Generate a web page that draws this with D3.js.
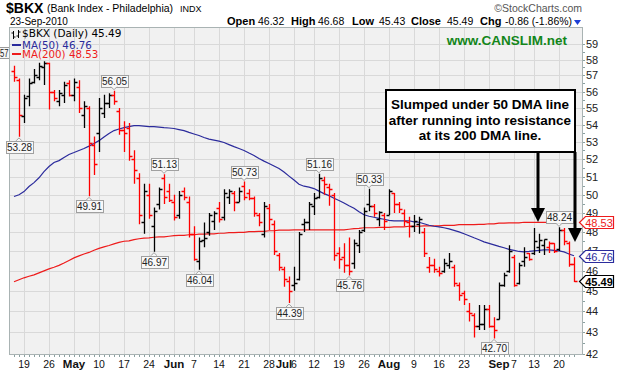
<!DOCTYPE html>
<html>
<head>
<meta charset="utf-8">
<script src="https://cdn.jsdelivr.net/npm/d3@7"></script>
<style>
    body { margin: 0; background: #fff; }
    svg { display: block; }
</style>
</head>
<body>
<svg id="SVG_CONTAINER" width="617" height="378"></svg>
<script>
let d3 = window.d3;

// trading days shown
const dates = [
    "Apr 15","Apr 16","Apr 19","Apr 20","Apr 21","Apr 22","Apr 23","Apr 26","Apr 27","Apr 28","Apr 29","Apr 30",
    "May 3","May 4","May 5","May 6","May 7","May 10","May 11","May 12","May 13","May 14",
    "May 17","May 18","May 19","May 20","May 21","May 24","May 25","May 26","May 27","May 28",
    "Jun 1","Jun 2","Jun 3","Jun 4","Jun 7","Jun 8","Jun 9","Jun 10","Jun 11",
    "Jun 14","Jun 15","Jun 16","Jun 17","Jun 18","Jun 21","Jun 22","Jun 23","Jun 24","Jun 25",
    "Jun 28","Jun 29","Jun 30","Jul 1","Jul 2","Jul 6","Jul 7","Jul 8","Jul 9",
    "Jul 12","Jul 13","Jul 14","Jul 15","Jul 16","Jul 19","Jul 20","Jul 21","Jul 22","Jul 23",
    "Jul 26","Jul 27","Jul 28","Jul 29","Jul 30","Aug 2","Aug 3","Aug 4","Aug 5","Aug 6",
    "Aug 9","Aug 10","Aug 11","Aug 12","Aug 13","Aug 16","Aug 17","Aug 18","Aug 19","Aug 20",
    "Aug 23","Aug 24","Aug 25","Aug 26","Aug 27","Aug 30","Aug 31","Sep 1","Sep 2","Sep 3",
    "Sep 7","Sep 8","Sep 9","Sep 10","Sep 13","Sep 14","Sep 15","Sep 16","Sep 17",
    "Sep 20","Sep 21","Sep 22","Sep 23"
];

const opens = [
    57.3,56.7,54.5,55.7,56.6,56.9,57.5,57.8,56.0,55.4,55.8,56.5,
    55.8,56.3,54.6,55.0,52.8,53.5,54.7,55.3,55.8,54.8,
    53.7,53.8,52.0,50.9,48.5,50.0,48.3,49.5,50.9,50.2,
    49.6,48.9,50.2,49.6,47.9,46.5,47.6,48.0,48.6,
    49.3,48.8,49.9,50.1,49.6,50.5,50.1,49.8,48.9,47.9,
    49.3,48.4,46.8,46.1,45.5,45.3,45.6,48.4,48.5,
    49.4,49.9,50.8,50.4,50.0,46.9,46.7,46.3,46.4,47.3,
    48.1,49.5,49.4,48.7,48.9,48.9,50.1,49.5,49.0,48.5,
    48.3,48.4,48.0,46.2,46.3,46.0,46.0,46.3,46.2,45.3,
    44.9,44.0,43.8,43.3,43.4,44.1,43.3,43.6,45.3,46.0,
    46.7,45.4,46.5,46.9,46.9,47.2,47.3,47.2,47.4,
    47.1,48.1,47.4,46.32
];
const highs = [
    57.6,56.8,55.8,56.8,57.4,57.8,57.9,57.8,56.1,56.1,56.6,56.7,
    56.8,56.7,55.4,55.1,53.3,55.6,55.8,55.9,56.05,55.0,
    54.2,54.1,52.5,51.2,50.6,50.6,49.3,50.4,51.13,50.6,
    50.0,50.2,50.4,49.9,48.3,47.7,48.5,49.0,49.1,
    49.6,50.3,50.3,50.2,50.4,50.73,50.3,49.9,49.0,49.6,
    49.5,48.6,46.9,46.2,45.7,46.2,48.0,48.7,49.6,
    50.1,51.16,51.0,50.6,50.1,47.2,47.4,47.7,47.6,48.1,
    49.3,50.33,49.5,49.1,49.0,50.3,50.1,49.6,49.2,48.8,
    48.9,48.8,48.2,46.7,46.6,46.2,46.6,46.9,46.3,45.4,
    45.0,44.4,43.9,44.3,44.3,44.3,43.7,45.4,45.9,47.3,
    46.8,46.4,47.2,46.9,48.2,47.9,47.6,47.5,47.4,
    48.24,48.2,47.5,46.68
];
const lows = [
    56.6,53.28,54.1,55.1,56.5,56.7,56.4,54.9,55.4,55.1,55.3,55.7,
    55.4,54.7,53.8,49.91,51.1,52.4,54.4,55.0,55.2,53.4,
    52.4,51.9,50.6,48.4,47.9,48.7,46.97,49.2,49.5,49.6,
    48.6,48.7,49.7,47.7,46.5,46.04,47.2,47.8,48.1,
    48.5,48.6,49.5,49.1,49.6,49.7,49.7,48.8,48.3,47.7,
    48.1,46.8,46.0,45.2,44.39,45.0,45.5,48.0,48.1,
    48.9,49.8,50.0,49.4,46.5,46.1,45.9,45.76,46.1,46.9,
    48.0,49.1,48.8,48.3,48.1,48.9,49.0,49.0,48.3,47.7,
    48.0,47.9,46.7,45.9,45.9,45.7,45.9,46.1,45.2,44.5,
    44.3,43.5,42.75,43.1,43.1,43.2,42.70,43.6,45.2,45.9,
    45.2,45.3,46.2,46.5,46.8,46.9,46.8,46.9,46.9,
    47.0,47.3,46.2,45.43
];
const closes = [
    56.9,54.6,55.6,56.5,57.0,57.6,57.8,56.0,55.6,55.9,56.4,55.8,
    56.6,55.0,55.1,52.9,51.7,55.0,55.3,55.8,55.4,53.7,
    53.5,52.2,51.4,48.9,50.2,48.9,49.1,50.3,49.9,49.7,
    48.8,50.0,49.9,47.9,46.6,47.5,47.7,48.9,49.0,
    48.7,50.1,50.2,49.6,50.2,49.9,49.8,49.0,48.5,49.4,
    48.7,47.0,46.2,45.6,45.0,45.4,47.9,48.5,49.5,
    49.8,50.9,50.6,50.3,46.8,46.6,46.3,46.0,47.4,48.0,
    49.1,49.4,49.0,49.05,48.6,50.2,49.5,49.2,48.6,48.3,
    48.6,48.7,46.9,46.3,46.1,45.9,46.4,46.5,45.4,44.8,
    44.6,43.9,43.3,43.4,44.1,43.3,43.1,45.3,45.8,47.0,
    45.3,46.3,46.7,46.6,47.5,47.6,47.65,47.4,47.0,
    48.1,47.5,46.35,45.49
];
// close of the session before the first bar
const priorClose = 57.4;

const ma50 = [
    49.9,50.0,50.17,50.45,50.67,50.94,51.29,51.57,51.80,51.91,
    52.09,52.26,52.37,52.49,52.60,52.74,52.89,53.06,53.27,53.48,
    53.65,53.74,53.82,53.88,53.94,53.94,53.91,53.88,53.88,53.85,
    53.82,53.80,53.77,53.71,53.65,53.54,53.45,53.36,53.24,53.15,
    53.09,53.03,52.95,52.83,52.71,52.60,52.49,52.34,52.20,52.03,
    51.88,51.74,51.60,51.46,51.26,51.03,50.81,50.58,50.47,50.42,
    50.34,50.20,50.06,49.95,49.81,49.68,49.55,49.40,49.26,49.07,
    48.91,48.83,48.78,48.72,48.67,48.61,48.59,48.59,48.59,48.59,
    48.53,48.51,48.43,48.35,48.30,48.27,48.22,48.16,48.08,48.00,
    47.90,47.80,47.69,47.59,47.48,47.40,47.32,47.24,47.17,47.09,
    47.04,46.98,46.96,46.98,47.01,47.04,47.06,47.06,47.04,47.01,
    46.96,46.85,46.76
];
const ma200 = [
    45.44,45.54,45.64,45.72,45.79,45.89,45.99,46.09,46.17,46.27,
    46.39,46.52,46.65,46.75,46.85,46.93,47.04,47.14,47.22,47.29,
    47.37,47.45,47.51,47.53,47.59,47.64,47.67,47.69,47.72,47.74,
    47.74,47.77,47.80,47.82,47.82,47.85,47.85,47.88,47.88,47.90,
    47.90,47.93,47.93,47.96,47.96,47.98,47.98,48.01,48.01,48.03,
    48.03,48.06,48.06,48.09,48.09,48.09,48.11,48.11,48.11,48.11,
    48.11,48.11,48.11,48.11,48.11,48.11,48.11,48.14,48.17,48.19,
    48.22,48.22,48.22,48.24,48.24,48.24,48.27,48.27,48.27,48.30,
    48.30,48.30,48.32,48.32,48.32,48.32,48.35,48.35,48.35,48.38,
    48.38,48.38,48.38,48.40,48.40,48.43,48.43,48.46,48.46,48.48,
    48.48,48.48,48.51,48.51,48.51,48.51,48.51,48.51,48.52,48.52,
    48.53,48.53,48.53
];

// first trading day of each week (vertical grid)
const weekStarts = ["Apr 19","Apr 26","May 3","May 10","May 17","May 24","Jun 1","Jun 7","Jun 14",
    "Jun 21","Jun 28","Jul 6","Jul 12","Jul 19","Jul 26","Aug 2","Aug 9","Aug 16","Aug 23","Aug 30",
    "Sep 7","Sep 13","Sep 20"];

// x axis labels: [date, text, is month]
const xLabels = [
    ["Apr 19","19",false],["Apr 26","26",false],["May 3","May",true],["May 10","10",false],
    ["May 17","17",false],["May 24","24",false],["Jun 1","Jun",true],["Jun 7","7",false],
    ["Jun 14","14",false],["Jun 21","21",false],["Jun 28","28",false],["Jul 1","Jul",true],
    ["Jul 6","6",false],["Jul 12","12",false],["Jul 19","19",false],["Jul 26","26",false],
    ["Aug 2","Aug",true],["Aug 9","9",false],["Aug 16","16",false],["Aug 23","23",false],
    ["Sep 1","Sep",true],["Sep 7","7",false],["Sep 13","13",false],["Sep 20","20",false]
];

const yTicks = [42,43,44,45,46,47,48,49,50,51,52,53,54,55,56,57,58,59];

// swing high / low flags
const swingDates  = ["Apr 16","May 6","May 13","May 25","May 27","Jun 8","Jun 21","Jul 2","Jul 13","Jul 21","Jul 27","Aug 31","Sep 20"];
const swingValues = [53.28,49.91,56.05,46.97,51.13,46.04,50.73,44.39,51.16,45.76,50.33,42.70,48.24];
const swingKinds  = ["low","low","high","low","high","low","high","low","high","low","high","low","high"];

const noteLines = ["Slumped under 50 DMA line", "after running into resistance", "at its 200 DMA line."];

const PLOT = {
    "LEFT":9,
    "RIGHT":582,
    "TOP":27,
    "BOTTOM":354,
};

const SANS = '"Liberation Sans", Arial, sans-serif';
const VERD = '"DejaVu Sans", Verdana, sans-serif';

let svg = d3.select("#SVG_CONTAINER");

let xScale = d3.scalePoint()
    .domain(dates)
    .range([14, 574]);

let yScale = d3.scaleLog()
    .domain([42, 59])
    .range([353.5, 44]);

const px = v => Math.round(v) + 0.5;
const last = dates.length - 1;

// flag of the high just before the window (mostly hidden behind plot)
let edge = svg.append('g');
edge.append('rect')
    .attr('x', -19.5).attr('y', 47.5).attr('width', 29).attr('height', 11)
    .attr('fill', '#f6f6f6').attr('stroke', '#999');
edge.append('text')
    .attr('x', 0).attr('y', 56.5)
    .attr('textLength', 8.5).attr('lengthAdjust', 'spacingAndGlyphs')
    .text('57')
    .style('font', '10px ' + SANS).attr('fill', '#222');

//plot background
svg.append('rect')
    .attr('x', PLOT.LEFT + 0.5).attr('y', PLOT.TOP + 0.5)
    .attr('width', PLOT.RIGHT - PLOT.LEFT).attr('height', PLOT.BOTTOM - PLOT.TOP)
    .attr('fill', '#f1f1f1');

//grid
let grid = svg.append('g').attr('class', 'grid');
grid.selectAll('line.h')
    .data(yTicks)
    .enter()
    .append('line')
        .attr('x1', PLOT.LEFT).attr('x2', PLOT.RIGHT)
        .attr('y1', d => px(yScale(d))).attr('y2', d => px(yScale(d)))
        .attr('stroke', '#d9d9d9');
grid.selectAll('line.v')
    .data(weekStarts)
    .enter()
    .append('line')
        .attr('x1', d => px(xScale(d))).attr('x2', d => px(xScale(d)))
        .attr('y1', PLOT.TOP).attr('y2', PLOT.BOTTOM)
        .attr('stroke', '#d9d9d9');

//moving averages
let line = d3.line()
    .x((d, i) => xScale(dates[i]))
    .y(d => yScale(d));

svg.append('path')
    .attr('d', line(ma200))
    .attr('fill', 'none').attr('stroke', '#ee1c1c').attr('stroke-width', 1.2);
svg.append('path')
    .attr('d', line(ma50))
    .attr('fill', 'none').attr('stroke', '#2b2b9c').attr('stroke-width', 1.2);

//price bars
let bars = dates.map((d, i) => ({
    date: d, o: opens[i], h: highs[i], l: lows[i], c: closes[i],
    up: closes[i] >= (i === 0 ? priorClose : closes[i - 1])
}));

svg.append('g')
    .selectAll('path')
    .data(bars)
    .enter()
    .append('path')
        .attr('d', function(d) {
            let x = px(xScale(d.date));
            let yo = px(yScale(d.o)), yc = px(yScale(d.c));
            return 'M' + x + ',' + yScale(d.h) + 'V' + yScale(d.l) +
                'M' + (x - 3) + ',' + yo + 'H' + x +
                'M' + x + ',' + yc + 'H' + (x + 3);
        })
        .attr('fill', 'none')
        .attr('stroke-width', 1.3)
        .attr('stroke', d => d.up ? '#000' : '#ff0000');

//frame
svg.append('rect')
    .attr('x', PLOT.LEFT + 0.5).attr('y', PLOT.TOP + 0.5)
    .attr('width', PLOT.RIGHT - PLOT.LEFT).attr('height', PLOT.BOTTOM - PLOT.TOP)
    .attr('fill', 'none').attr('stroke', '#a9b3b3');

//daily ticks under the x axis
svg.append('g')
    .selectAll('line')
    .data(dates)
    .enter()
    .append('line')
        .attr('x1', d => px(xScale(d))).attr('x2', d => px(xScale(d)))
        .attr('y1', PLOT.BOTTOM + 1).attr('y2', PLOT.BOTTOM + 3)
        .attr('stroke', '#8aa0a0');

//y axis (right)
let yAxis = svg.append('g');
yAxis.selectAll('line')
    .data(d3.range(42, 59.01, 0.5))
    .enter()
    .append('line')
        .attr('x1', PLOT.RIGHT + 1).attr('x2', PLOT.RIGHT + 3)
        .attr('y1', d => px(yScale(d))).attr('y2', d => px(yScale(d)))
        .attr('stroke', '#8aa0a0');
yAxis.selectAll('text')
    .data(yTicks)
    .enter()
    .append('text')
        .attr('x', PLOT.RIGHT + 4)
        .attr('y', d => yScale(d) + 4)
        .text(d => d)
        .style('font', '11px ' + SANS)
        .attr('fill', '#222');

//x axis labels
svg.append('g')
    .selectAll('text')
    .data(xLabels)
    .enter()
    .append('text')
        .attr('x', d => xScale(d[0]))
        .attr('y', 368)
        .attr('text-anchor', 'middle')
        .text(d => d[1])
        .style('font', d => (d[2] ? 'bold 11.5px ' : '10.5px ') + SANS)
        .attr('fill', '#111');

//swing flags
let flags = svg.append('g');
swingDates.forEach(function(d, i) {
    let cx = xScale(d), v = swingValues[i], yv = yScale(v);
    let w = 27, h = 12;
    let top = swingKinds[i] === 'low' ? yv + 4 : yv - 4 - h;
    let tip = swingKinds[i] === 'low'
        ? [[cx - 3, top], [cx, yv + 1], [cx + 3, top]]
        : [[cx - 3, top + h], [cx, yv - 1], [cx + 3, top + h]];
    flags.append('rect')
        .attr('x', Math.round(cx - w / 2) + 0.5).attr('y', Math.round(top) + 0.5)
        .attr('width', w).attr('height', h)
        .attr('fill', '#f8f8f8').attr('stroke', '#a0a0a0');
    flags.append('path')
        .attr('d', d3.line()(tip))
        .attr('fill', '#f8f8f8').attr('stroke', '#a0a0a0');
    flags.append('text')
        .attr('x', cx + 0.5).attr('y', Math.round(top) + 10)
        .attr('text-anchor', 'middle')
        .text(v.toFixed(2))
        .style('font', '10px ' + SANS)
        .attr('fill', '#222');
});

//value tags on the right axis
let tags = [
    [ma200[last], '#ee1c1c', '#ee1c1c', 'normal'],
    [ma50[last], '#2b2b9c', '#2b2b9c', 'normal'],
    [closes[last], '#000', '#000', 'bold']
];
tags.forEach(function(t) {
    let yv = Math.round(yScale(t[0])) + 0.5;
    svg.append('path')
        .attr('d', 'M579.5,' + yv + 'L585.5,' + (yv - 6) + 'H613.5V' + (yv + 6) + 'H585.5Z')
        .attr('fill', '#fff').attr('stroke', t[1]).attr('stroke-width', 1.2);
    svg.append('text')
        .attr('x', 599).attr('y', yv + 4)
        .attr('text-anchor', 'middle')
        .text(t[0].toFixed(2))
        .style('font', t[3] + ' 11px ' + SANS)
        .attr('fill', t[2]);
});

//legend
let legend = svg.append('g');
legend.append('path')
    .attr('d', 'M13.5,31V39M11.5,33H13.5M13.5,37H15.5M18.5,30V38M16.5,36H18.5M18.5,32H20.5')
    .attr('stroke', '#000').attr('fill', 'none');
legend.append('text')
    .attr('x', 22).attr('y', 37)
    .text('$BKX (Daily) ' + closes[last].toFixed(2))
    .style('font', '10.5px ' + VERD).attr('fill', '#000');
legend.append('line')
    .attr('x1', 12).attr('x2', 21).attr('y1', 45).attr('y2', 45)
    .attr('stroke', '#2b2b9c').attr('stroke-width', 2);
legend.append('text')
    .attr('x', 22).attr('y', 48.5)
    .text('MA(50) ' + ma50[last].toFixed(2))
    .style('font', '10.3px ' + VERD).attr('fill', '#2b2b9c');
legend.append('line')
    .attr('x1', 12).attr('x2', 21).attr('y1', 54).attr('y2', 54)
    .attr('stroke', '#ee1c1c').attr('stroke-width', 2);
legend.append('text')
    .attr('x', 22).attr('y', 57.5)
    .text('MA(200) ' + ma200[last].toFixed(2))
    .style('font', '10.3px ' + VERD).attr('fill', '#ee1c1c');

//watermark
svg.append('text')
    .attr('x', 567).attr('y', 45)
    .attr('text-anchor', 'end')
    .text('www.CANSLIM.net')
    .style('font', 'bold 13.5px ' + SANS)
    .attr('fill', '#13861a');

//header
svg.append('text').attr('x', 6).attr('y', 12.5)
    .text('$BKX').style('font', 'bold 14px ' + SANS);
svg.append('text').attr('x', 47).attr('y', 12)
    .text('(Bank Index - Philadelphia)').style('font', '10.5px ' + SANS);
svg.append('text').attr('x', 180).attr('y', 12)
    .text('INDX').style('font', '9px ' + SANS);
svg.append('text').attr('x', 10).attr('y', 25)
    .text('23-Sep-2010').style('font', '10px ' + SANS);
svg.append('text').attr('x', 582).attr('y', 12)
    .attr('text-anchor', 'end')
    .text('\u00a9StockCharts.com').style('font', '10.5px ' + SANS).attr('fill', '#555');

let chg = closes[last] - closes[last - 1];
let quote = [
    ['Open', 227, true], [opens[last].toFixed(2), 258, false],
    ['High', 291, true], [highs[last].toFixed(2), 318, false],
    ['Low', 352, true], [lows[last].toFixed(2), 379, false],
    ['Close', 411, true], [closes[last].toFixed(2), 447, false],
    ['Chg', 480, true],
    [chg.toFixed(2) + ' (' + (chg / closes[last - 1] * 100).toFixed(2) + '%)', 505, false]
];
svg.append('g')
    .selectAll('text')
    .data(quote)
    .enter()
    .append('text')
        .attr('x', d => d[1]).attr('y', 25)
        .text(d => d[0])
        .style('font', d => (d[2] ? 'bold 11px ' : '10.5px ') + SANS)
        .attr('fill', '#000');
svg.append('path')
    .attr('d', 'M574,20H581L577.5,25Z')
    .attr('fill', '#1d3fd6');

//callout
svg.append('rect')
    .attr('x', 386).attr('y', 90).attr('width', 189).attr('height', 62)
    .attr('fill', '#fff').attr('stroke', '#000').attr('stroke-width', 2);
svg.append('g')
    .selectAll('text')
    .data(noteLines)
    .enter()
    .append('text')
        .attr('x', 480).attr('y', (d, i) => 109 + i * 15.5)
        .attr('text-anchor', 'middle')
        .text(d => d)
        .style('font', 'bold 13.5px "Liberation Sans Narrow", "Arial Narrow", ' + SANS)
        .attr('fill', '#000');

//arrows
[[538, 208], [575, 228]].forEach(function(a) {
    svg.append('rect')
        .attr('x', a[0] - 1.5).attr('y', 152).attr('width', 3).attr('height', a[1] - 151)
        .attr('fill', '#000');
    svg.append('path')
        .attr('d', 'M' + (a[0] - 7) + ',' + a[1] + 'H' + (a[0] + 7) + 'L' + a[0] + ',' + (a[1] + 14) + 'Z')
        .attr('fill', '#000');
});
</script>
</body>
</html>
